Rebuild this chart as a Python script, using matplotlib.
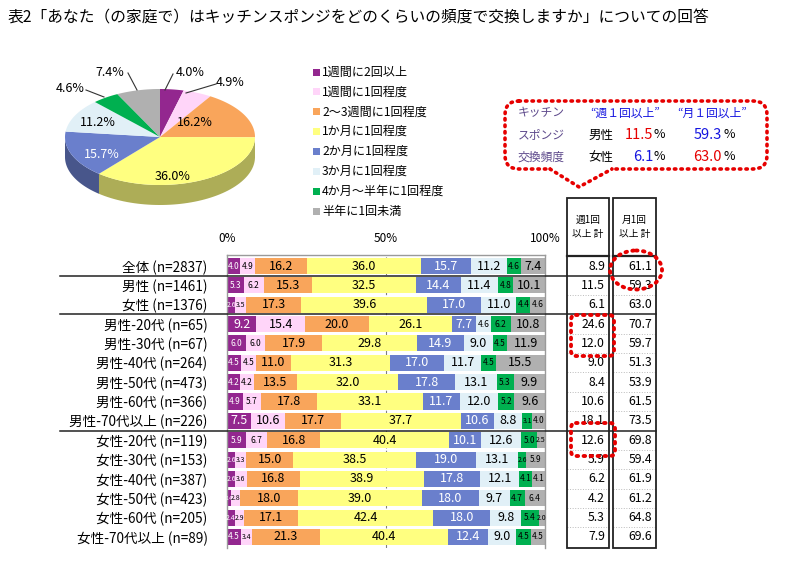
import numpy as np
import matplotlib
matplotlib.use("Agg")
import matplotlib.pyplot as plt
from matplotlib.patches import Polygon, FancyBboxPatch, Ellipse, Rectangle
from matplotlib.transforms import blended_transform_factory

plt.rcParams['font.family'] = ['Noto Sans CJK JP', 'DejaVu Sans']

title = "表2「あなた（の家庭で）はキッチンスポンジをどのくらいの頻度で交換しますか」についての回答"

categories = ['1週間に2回以上', '1週間に1回程度', '2～3週間に1回程度', '1か月に1回程度',
              '2か月に1回程度', '3か月に1回程度', '4か月～半年に1回程度', '半年に1回未満']
colors = ['#93278F', '#FFD5F9', '#F9A55B', '#FFFF80', '#6A7FCC', '#E1F0F7', '#00B050', '#B0B0B0']
text_colors = ['white', 'black', 'black', 'black', 'white', 'black', 'black', 'black']

pie_values = [4.0, 4.9, 16.2, 36.0, 15.7, 11.2, 4.6, 7.4]

rows = ['全体 (n=2837)', '男性 (n=1461)', '女性 (n=1376)',
        '男性-20代 (n=65)', '男性-30代 (n=67)', '男性-40代 (n=264)',
        '男性-50代 (n=473)', '男性-60代 (n=366)', '男性-70代以上 (n=226)',
        '女性-20代 (n=119)', '女性-30代 (n=153)', '女性-40代 (n=387)',
        '女性-50代 (n=423)', '女性-60代 (n=205)', '女性-70代以上 (n=89)']

# one list per answer category, one value per row
twice_week = [4.0, 5.3, 2.6, 9.2, 6.0, 4.5, 4.2, 4.9, 7.5, 5.9, 2.6, 2.6, 1.4, 2.4, 4.5]
once_week = [4.9, 6.2, 3.5, 15.4, 6.0, 4.5, 4.2, 5.7, 10.6, 6.7, 3.3, 3.6, 2.8, 2.9, 3.4]
two_three_weeks = [16.2, 15.3, 17.3, 20.0, 17.9, 11.0, 13.5, 17.8, 17.7, 16.8, 15.0, 16.8, 18.0, 17.1, 21.3]
one_month = [36.0, 32.5, 39.6, 26.1, 29.8, 31.3, 32.0, 33.1, 37.7, 40.4, 38.5, 38.9, 39.0, 42.4, 40.4]
two_months = [15.7, 14.4, 17.0, 7.7, 14.9, 17.0, 17.8, 11.7, 10.6, 10.1, 19.0, 17.8, 18.0, 18.0, 12.4]
three_months = [11.2, 11.4, 11.0, 4.6, 9.0, 11.7, 13.1, 12.0, 8.8, 12.6, 13.1, 12.1, 9.7, 9.8, 9.0]
four_six_months = [4.6, 4.8, 4.4, 6.2, 4.5, 4.5, 5.3, 5.2, 3.1, 5.0, 2.6, 4.1, 4.7, 5.4, 4.5]
less_half_year = [7.4, 10.1, 4.6, 10.8, 11.9, 15.5, 9.9, 9.6, 4.0, 2.5, 5.9, 4.1, 6.4, 2.0, 4.5]

weekly_total = [8.9, 11.5, 6.1, 24.6, 12.0, 9.0, 8.4, 10.6, 18.1, 12.6, 5.9, 6.2, 4.2, 5.3, 7.9]
monthly_total = [61.1, 59.3, 63.0, 70.7, 59.7, 51.3, 53.9, 61.5, 73.5, 69.8, 59.4, 61.9, 61.2, 64.8, 69.6]

group_breaks = [0.5, 2.5, 8.5]

series = [twice_week, once_week, two_three_weeks, one_month,
          two_months, three_months, four_six_months, less_half_year]

W, H = 810, 564
fig = plt.figure(figsize=(W / 100, H / 100), dpi=100)

# overlay axes in pixel coordinates for the decorations
ov = fig.add_axes([0, 0, 1, 1])
ov.set_xlim(0, W)
ov.set_ylim(H, 0)
ov.axis('off')
ov.set_zorder(5)
ov.patch.set_alpha(0)

fig.text(8 / W, 1 - 18 / H, title, fontsize=11.3, va='center', ha='left')

# ---- stacked bars ----
x0, x1, ytop, ybot = 227, 545, 255, 548
ax = fig.add_axes([x0 / W, 1 - ybot / H, (x1 - x0) / W, (ybot - ytop) / H])
y = np.arange(len(rows))
left = np.zeros(len(rows))
for vals, c, tc in zip(series, colors, text_colors):
    vals = np.array(vals)
    bars = ax.barh(y, vals, left=left, height=0.83, color=c, edgecolor='none')
    for bar, yi, v, l in zip(bars, y, vals, left):
        if v >= 7:
            fs = 9
        elif v >= 4:
            fs = 6
        elif v >= 2:
            fs = 5
        else:
            fs = 3.5
        t = ax.text(l + v / 2, yi, f"{v:.1f}", ha='center', va='center', fontsize=fs, color=tc)
        if v < 2:
            # label wider than the segment: clip it like the original
            t.set_clip_path(bar)
    left += vals

ax.set_xlim(0, 100)
ax.set_ylim(len(rows) - 0.43, -0.57)
ax.xaxis.tick_top()
ax.set_xticks([0, 50, 100])
ax.set_xticklabels(['0%', '50%', '100%'], fontsize=8.5)
ax.tick_params(axis='x', length=0, pad=7)
ax.set_yticks(y)
ax.set_yticklabels(rows, fontsize=9.8)
ax.tick_params(axis='y', length=0, pad=14)
ax.axvline(50, color='#808080', lw=0.8, ls=(0, (4, 2)), zorder=0)
for s in ['left', 'right', 'top']:
    ax.spines[s].set_color('#9A9A9A')
    ax.spines[s].set_linewidth(1)
ax.spines['bottom'].set_visible(False)
ax.set_zorder(2)

# ---- table on the right ----
c1l, c1r, c2l, c2r = 567, 609, 613, 656
tbl_top, hdr_bot, tbl_bot = 198, 256, 548
for l, r in [(c1l, c1r), (c2l, c2r)]:
    ov.add_patch(Rectangle((l, tbl_top), r - l, tbl_bot - tbl_top, fill=False, ec='#222222', lw=1.3))
    ov.plot([l, r], [hdr_bot, hdr_bot], color='#222222', lw=1.6)
ov.text((c1l + c1r) / 2, 227, "週1回\n以上 計", ha='center', va='center', fontsize=7, linespacing=1.6)
ov.text((c2l + c2r) / 2, 227, "月1回\n以上 計", ha='center', va='center', fontsize=7, linespacing=1.6)

tr = blended_transform_factory(ov.transData, ax.transData)
for yi, wv, mv in zip(y, weekly_total, monthly_total):
    ax.text(c1r - 4, yi, f"{wv:.1f}", transform=tr, ha='right', va='center', fontsize=8.8, clip_on=False)
    ax.text(c2r - 4, yi, f"{mv:.1f}", transform=tr, ha='right', va='center', fontsize=8.8, clip_on=False)
    b = yi + 0.5
    if b < len(rows) - 0.5:
        if b in group_breaks:
            ax.plot([60, c2r], [b, b], transform=tr, color='#222222', lw=1.1, clip_on=False, zorder=6)
        else:
            for l, r in [(c1l, c1r), (c2l, c2r)]:
                ax.plot([l, r], [b, b], transform=tr, color='#BBBBBB', lw=0.7, ls=':', clip_on=False)

# ---- pie (pseudo 3D) ----
cx, cy, rx, ry, depth = 160, 137, 95, 48, 20
fr = np.array(pie_values) / sum(pie_values)
cum = np.concatenate([[0], np.cumsum(fr)])


def arc(a0, a1, dy=0):
    t = np.radians(np.linspace(a0, a1, 60))
    return np.column_stack([cx + rx * np.cos(t), cy - ry * np.sin(t) + dy])


for i, c in enumerate(colors):
    a0, a1 = 90 - 360 * cum[i + 1], 90 - 360 * cum[i]
    s0, s1 = max(a0, -180), min(a1, 0)
    if s1 > s0:
        top = arc(s0, s1)
        bot = arc(s0, s1, depth)[::-1]
        dark = tuple(v * 0.68 for v in matplotlib.colors.to_rgb(c))
        ov.add_patch(Polygon(np.vstack([top, bot]), closed=True, fc=dark, ec='none', zorder=1))
for i, c in enumerate(colors):
    a0, a1 = 90 - 360 * cum[i + 1], 90 - 360 * cum[i]
    pts = np.vstack([[cx, cy], arc(a0, a1)])
    ov.add_patch(Polygon(pts, closed=True, fc=c, ec='none', zorder=2))

pie_lbl = [(190, 72, 'black'), (230, 82, 'black'), (195, 123, 'black'), (173, 176, 'black'),
           (102, 155, 'white'), (98, 122, 'black'), (70, 88, 'black'), (110, 72, 'black')]
for v, (lx, ly, lc) in zip(pie_values, pie_lbl):
    ov.text(lx, ly, f"{v:.1f}%", ha='center', va='center', fontsize=9, color=lc, zorder=3)
leaders = [[(173, 74), (165, 90)], [(216, 84), (186, 93)], [(86, 90), (104, 97)], [(128, 73), (137, 90)]]
for seg in leaders:
    (xa, ya), (xb, yb) = seg
    ov.plot([xa, xb], [ya, yb], color='#333333', lw=0.8, zorder=3)

# legend (squares + labels)
leg_x, leg_y, leg_dy = 313, 72, 19.9
for i, (cat, c) in enumerate(zip(categories, colors)):
    yy = leg_y + i * leg_dy
    ov.add_patch(Rectangle((leg_x, yy - 3.5), 7, 7, fc=c, ec='none'))
    ov.text(leg_x + 9, yy, cat, ha='left', va='center', fontsize=8.7)

# ---- callout ----
red = '#E60000'
box = FancyBboxPatch((505, 101), 262, 68, boxstyle='round,pad=0,rounding_size=14',
                     fc='white', ec=red, lw=2.6, ls=(0, (0.4, 1.4)), capstyle='round', zorder=3)
ov.add_patch(box)
ov.add_patch(Rectangle((551, 165), 60, 8, fc='white', ec='none', zorder=4))
ov.plot([550, 579, 612], [169, 187, 169], color=red, lw=2.6, ls=(0, (0.4, 1.4)),
        dash_capstyle='round', zorder=4)

purple = '#5E4A8C'
for txt, yy in [("キッチン", 113), ("スポンジ", 135), ("交換頻度", 157)]:
    ov.text(541, yy, txt, ha='center', va='center', fontsize=8.5, color=purple, zorder=5)
ov.text(625, 113, "“週１回以上”", ha='center', va='center', fontsize=8.5, color='#1515E0', zorder=5)
ov.text(712, 113, "“月１回以上”", ha='center', va='center', fontsize=8.5, color='#1515E0', zorder=5)
ov.text(601, 135, "男性", ha='center', va='center', fontsize=9, zorder=5)
ov.text(601, 157, "女性", ha='center', va='center', fontsize=9, zorder=5)
callout_vals = [(653, 135, "11.5", red), (722, 135, "59.3", '#1515E0'),
                (653, 157, "6.1", '#1515E0'), (722, 157, "63.0", red)]
for xx, yy, txt, cc in callout_vals:
    ov.text(xx, yy, txt, ha='right', va='center', fontsize=10.5, color=cc, zorder=5)
    ov.text(xx + 1, yy, "%", ha='left', va='center', fontsize=9, zorder=5)

# red dotted highlights
dot = dict(fill=False, ec=red, lw=2.8, ls=(0, (0.4, 1.4)), capstyle='round', zorder=7)
ov.add_patch(Ellipse((636, 270), 52, 39, **dot))
ov.add_patch(FancyBboxPatch((571, 315), 43, 41, boxstyle='round,pad=0,rounding_size=5', **dot))
ov.add_patch(FancyBboxPatch((571, 423), 44, 33, boxstyle='round,pad=0,rounding_size=5', **dot))

fig.savefig("out.png", dpi=100)
